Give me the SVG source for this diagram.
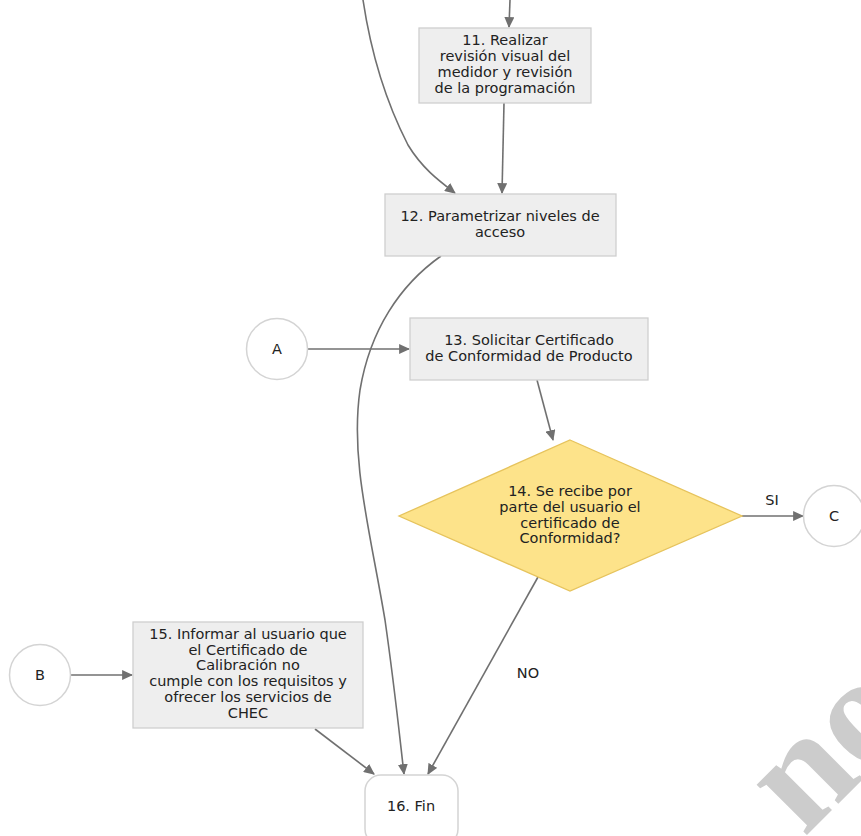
<svg xmlns="http://www.w3.org/2000/svg" width="861" height="836" viewBox="0 0 861 836">
<style>
.box{fill:#eeeeee;stroke:#cfcfcf;stroke-width:1.3}
.circ{fill:#ffffff;stroke:#d4d4d4;stroke-width:1.5}
.dia{fill:#fde38a;stroke:#e6c35c;stroke-width:1.3}
.t{font-family:"DejaVu Sans",sans-serif;font-size:14.5px;fill:#222;text-anchor:middle}
.e{fill:none;stroke:#707070;stroke-width:1.6}
.wm{font-family:"Liberation Serif",serif;font-weight:bold;font-size:155px;fill:#cccccc}
</style>
<defs>
<marker id="ah" viewBox="0 0 10 10" refX="9" refY="5" markerWidth="11" markerHeight="10" markerUnits="userSpaceOnUse" orient="auto" preserveAspectRatio="none">
<path d="M0,0 L10,5 L0,10 z" fill="#707070"/>
</marker>
</defs>
<rect width="861" height="836" fill="#ffffff"/>
<g id="connectors">
<path class="e" d="M510,0 L509,27" marker-end="url(#ah)"/>
<path class="e" d="M363,0 C372,60 390,110 408,145 C422,168 438,180 455,193" marker-end="url(#ah)"/>
<path class="e" d="M504,103 L502,193" marker-end="url(#ah)"/>
<path class="e" d="M441,256 C400,285 370,330 360,390 C350,460 370,530 385,620 C395,690 400,740 404,774" marker-end="url(#ah)"/>
<path class="e" d="M308,349 L409,349" marker-end="url(#ah)"/>
<path class="e" d="M537,380 L553,440" marker-end="url(#ah)"/>
<path class="e" d="M742,516 L803,516" marker-end="url(#ah)"/>
<path class="e" d="M538,577 L428,774" marker-end="url(#ah)"/>
<path class="e" d="M71,675 L132,675" marker-end="url(#ah)"/>
<path class="e" d="M315,729 L374,774" marker-end="url(#ah)"/>
<text class="t" x="772" y="505">SI</text>
<text class="t" x="528" y="678">NO</text>
</g>
<g id="n11">
<rect class="box" x="419" y="28" width="172" height="75"/>
<text class="t" x="505" y="45">11. Realizar</text>
<text class="t" x="505" y="61">revisión visual del</text>
<text class="t" x="505" y="77">medidor y revisión</text>
<text class="t" x="505" y="93">de la programación</text>
</g>
<g id="n12">
<rect class="box" x="385" y="194" width="231" height="62"/>
<text class="t" x="500" y="221">12. Parametrizar niveles de</text>
<text class="t" x="500" y="237">acceso</text>
</g>
<g id="nA">
<circle class="circ" cx="277" cy="349" r="30.5"/>
<text class="t" x="277" y="354">A</text>
</g>
<g id="n13">
<rect class="box" x="410" y="318" width="238" height="62"/>
<text class="t" x="529" y="345">13. Solicitar Certificado</text>
<text class="t" x="529" y="361">de Conformidad de Producto</text>
</g>
<g id="n14">
<polygon class="dia" points="570,440 742,516 570,591 399,516"/>
<text class="t" x="570" y="496">14. Se recibe por</text>
<text class="t" x="570" y="512">parte del usuario el</text>
<text class="t" x="570" y="528">certificado de</text>
<text class="t" x="570" y="543">Conformidad?</text>
</g>
<g id="nC">
<circle class="circ" cx="834" cy="516" r="30.5"/>
<text class="t" x="834" y="521">C</text>
</g>
<g id="nB">
<circle class="circ" cx="40" cy="675" r="30.5"/>
<text class="t" x="40" y="680">B</text>
</g>
<g id="n15">
<rect class="box" x="133" y="622" width="230" height="106"/>
<text class="t" x="248" y="639">15. Informar al usuario que</text>
<text class="t" x="248" y="655">el Certificado de</text>
<text class="t" x="248" y="670">Calibración no</text>
<text class="t" x="248" y="686">cumple con los requisitos y</text>
<text class="t" x="248" y="702">ofrecer los servicios de</text>
<text class="t" x="248" y="718">CHEC</text>
</g>
<g id="n16">
<rect x="365" y="775" width="93" height="70" rx="16" ry="16" fill="#ffffff" stroke="#d4d4d4" stroke-width="1.5"/>
<text class="t" x="411" y="811">16. Fin</text>
</g>
<text class="wm" x="804" y="838" transform="rotate(-45 804 838)">no</text>
</svg>
